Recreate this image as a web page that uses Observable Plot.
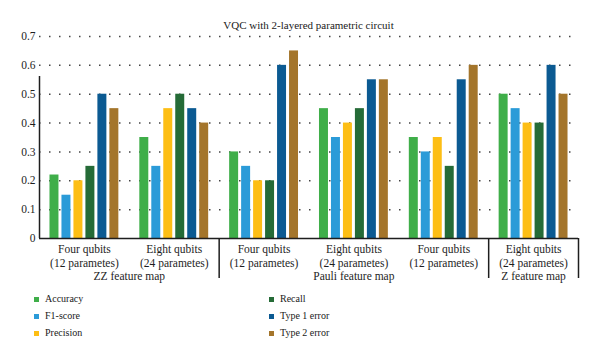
<!DOCTYPE html>
<html><head><meta charset="utf-8">
<script src="https://cdn.jsdelivr.net/npm/d3@7"></script>
<script src="https://cdn.jsdelivr.net/npm/@observablehq/plot@0.6"></script>
<style>
body{margin:0;background:#fff;font-family:"Liberation Serif",serif;color:#1a1a1a}
#title{width:600px;height:30px;box-sizing:border-box;padding:18px 22px 0 39px;text-align:center;font-size:11px;line-height:14px}
#chart{height:255px}
#legend{position:relative;width:600px;height:75px;font-size:10px}
.item{position:absolute;display:flex;align-items:center;height:14px;line-height:14px}
.sw{width:5px;height:5px;margin-right:6px}
</style></head><body>
<div id="title">VQC with 2-layered parametric circuit</div>
<div id="chart"></div>
<div id="legend"></div>
<script>
const groupLabels = ["Four qubits\n(12 parametes)", "Eight qubits\n(24 parametes)", "Four qubits\n(12 parametes)", "Eight qubits\n(24 parametes)", "Four qubits\n(12 parametes)", "Eight qubits\n(24 parametes)"];
const metrics = ["Accuracy", "F1-score", "Precision", "Recall", "Type 1 error", "Type 2 error"];
const colors = ["#3fae49", "#2b9bd8", "#fdbe14", "#256b37", "#0b5a92", "#a4752b"];
const accuracy  = [0.22, 0.35, 0.30, 0.45, 0.35, 0.50];
const f1score   = [0.15, 0.25, 0.25, 0.35, 0.30, 0.45];
const precision = [0.20, 0.45, 0.20, 0.40, 0.35, 0.40];
const recall    = [0.25, 0.50, 0.20, 0.45, 0.25, 0.40];
const type1     = [0.50, 0.45, 0.60, 0.55, 0.55, 0.60];
const type2     = [0.45, 0.40, 0.65, 0.55, 0.60, 0.50];
const mapNames = ["ZZ feature map", "Pauli feature map", "Z feature map"];
const mapStart = [0, 2, 5];
const mapEnd   = [2, 5, 6];
const yTicks = [0, 0.1, 0.2, 0.3, 0.4, 0.5, 0.6, 0.7];

const series = [accuracy, f1score, precision, recall, type1, type2];
const padOuter = 0.875, padInner = 0.25, n = metrics.length;
const steps = n - padInner + 2 * padOuter;
const bars = [];
groupLabels.forEach((g, i) => metrics.forEach((m, j) => {
  const x1 = i + (padOuter + j) / steps;
  bars.push({metric: m, value: series[j][i], x1, x2: x1 + (1 - padInner) / steps});
}));
const sepBounds = mapEnd;
const ink = "#1e1e1e";

const chart = Plot.plot({
  width: 600, height: 255,
  marginTop: 6, marginBottom: 47, marginLeft: 39, marginRight: 22,
  style: {fontFamily: "Liberation Serif, serif", fontSize: "11.5px", color: ink, background: "white", overflow: "visible"},
  x: {domain: [0, groupLabels.length], axis: null},
  y: {domain: [0, 0.7], axis: null},
  color: {domain: metrics, range: colors},
  marks: [
    Plot.ruleY(yTicks.filter(d => d > 0), {stroke: "#444", strokeWidth: 1.5, strokeDasharray: "1.5,8.5"}),
    Plot.rect(bars, {x1: "x1", x2: "x2", y1: 0, y2: "value", fill: "metric"}),
    Plot.ruleY([0], {stroke: ink, strokeWidth: 1.5}),
    Plot.ruleX([0], {y1: 0.7, stroke: ink, strokeWidth: 1.5, insetBottom: -40}),
    Plot.ruleX(sepBounds, {x: d => d, y1: 0, stroke: ink, strokeWidth: 1.5, insetBottom: -40}),
    Plot.axisY(yTicks, {tickSize: 0, tickPadding: 4, fontSize: 11.5, label: null, tickFormat: d => d === 0 ? "0" : d.toFixed(1)}),
    Plot.text(groupLabels, {x: (d, i) => i + 0.5, y: 0, text: d => d, lineAnchor: "middle", lineHeight: 1.2, dy: 17, fill: ink}),
    Plot.text(mapNames, {x: (d, i) => (mapStart[i] + mapEnd[i]) / 2, y: 0, text: d => d, lineAnchor: "middle", dy: 38, fill: ink})
  ]
});
document.getElementById("chart").appendChild(chart);

const legend = document.getElementById("legend");
metrics.forEach((m, j) => {
  const col = Math.floor(j / 3), row = j % 3;
  const el = document.createElement("div");
  el.className = "item";
  el.style.left = (col === 0 ? 34 : 269) + "px";
  el.style.top = (7 + row * 17) + "px";
  el.innerHTML = `<span class="sw" style="background:${colors[j]}"></span><span>${m}</span>`;
  legend.appendChild(el);
});
</script>
</body></html>
